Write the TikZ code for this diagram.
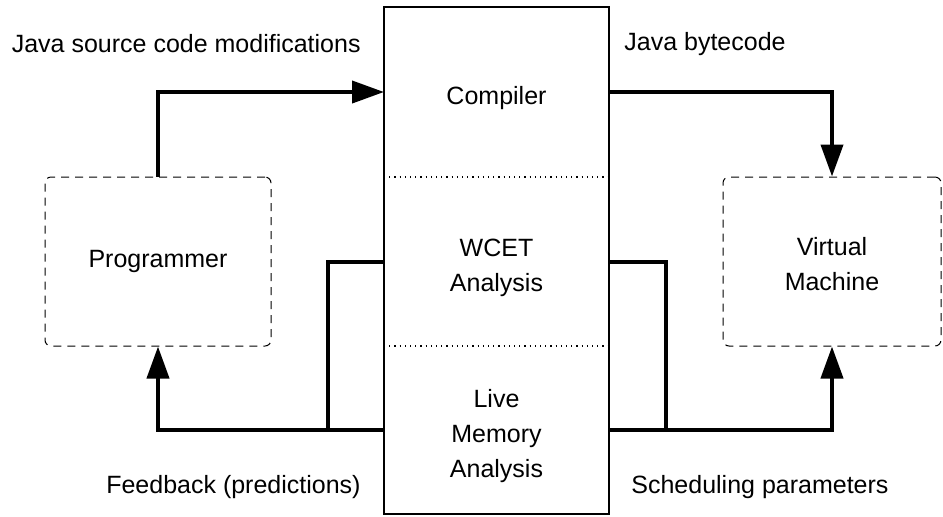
\documentclass[tikz,border=0pt]{standalone}
\usepackage{fontspec}
\setmainfont{Liberation Sans}
\usetikzlibrary{arrows.meta,
                positioning}

\tikzset{
  stage/.style={minimum width=112.5pt, inner sep=0pt, outer sep=0pt,
                align=center},
  actor/.style={draw, dashed, dash pattern=on 4pt off 3pt, line width=0.5pt,
                rounded corners=3pt, minimum height=84.5pt, inner sep=0pt,
                align=center},
  flow/.style={line width=2pt, -{Triangle[length=16pt,width=11pt]}},
  link/.style={line width=2pt},
  lbl/.style={inner sep=0pt}
}

\begin{document}
\begin{tikzpicture}[x=0.5pt, y=-0.5pt, font=\fontsize{12.5}{17.5}\selectfont]
 \useasboundingbox (0,0) rectangle (943,516);

 % the tool chain, one box in three parts
 \node[stage, minimum height=85pt, text height=15pt]   (comp) at (496.5,92)    {Compiler};
 \node[stage, minimum height=84.5pt, text height=32.5pt] (wcet) at (496.5,261.5) {WCET\\Analysis};
 \node[stage, minimum height=84pt, text height=50pt]   (live) at (496.5,430)   {Live\\Memory\\Analysis};
 \draw[line width=1pt] (comp.north west) rectangle (live.south east);
 \draw[dotted, line width=0.6pt] (comp.south west) -- (comp.south east);
 \draw[dotted, line width=0.6pt] (wcet.south west) -- (wcet.south east);

 \node[actor, minimum width=113pt] (prog) at (158,261.5) {Programmer};
 \node[actor, minimum width=109pt, text height=29.5pt] (vm) at (832,261.5) {Virtual\\Machine};

 \node[lbl, anchor=east] (srcmod) at (361,44)  {Java source code modifications};
 \node[lbl, anchor=west] (bytec)  at (624,44)  {Java bytecode};
 \node[lbl, anchor=east] (feedb)  at (361,487) {Feedback (predictions)};
 \node[lbl, anchor=west] (sched)  at (631,487) {Scheduling parameters};

 \coordinate (jl) at (328,430);
 \coordinate (jr) at (666,430);

 % connectors
 \draw[flow] (prog.north) |- (comp.west);
 \draw[flow] (comp.east) -| (vm.north);
 \draw[flow] (live.west) -| (prog.south);
 \draw[flow] (live.east) -| (vm.south);
 \draw[link] (wcet.west) -| (jl);
 \draw[link] (wcet.east) -| (jr);
\end{tikzpicture}
\end{document}
